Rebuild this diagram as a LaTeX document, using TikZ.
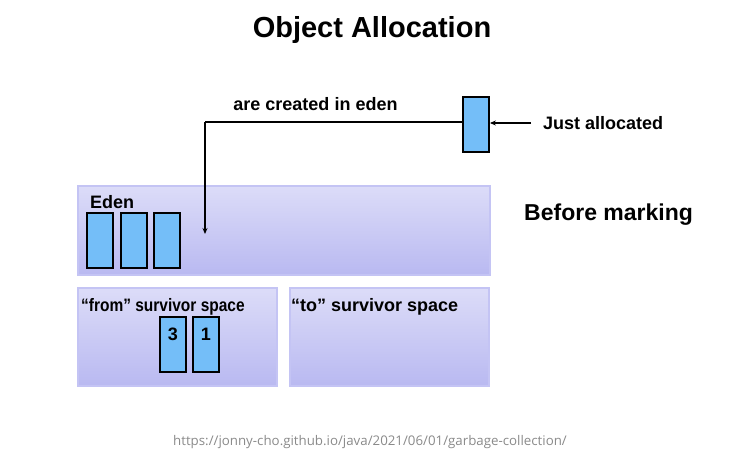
\documentclass[tikz,border=0pt]{standalone}
\usepackage{fontspec}
\usetikzlibrary{arrows.meta}
\setmainfont{Liberation Sans}
\newfontfamily\urlfont{Open Sans}
\definecolor{spaceTop}{HTML}{DCDCF8}
\definecolor{spaceBot}{HTML}{B9B9F1}
\definecolor{spaceEdge}{HTML}{C4C4F4}
\definecolor{objFill}{HTML}{74BEF8}
\definecolor{urlGray}{HTML}{8A8A8A}
\begin{document}
\begin{tikzpicture}[x=1pt,y=-1pt,
  space/.style={draw=spaceEdge,line width=1.5pt,top color=spaceTop,bottom color=spaceBot},
  obj/.style={draw=black,line width=1.8pt,fill=objFill},
  lbl/.style={font=\bfseries\fontsize{18}{20}\selectfont,inner sep=0pt},
  conn/.style={line width=1.6pt,-{Stealth[length=6pt,width=5pt]}}
]
\useasboundingbox (0,0) rectangle (739,466);
\node[font=\bfseries\fontsize{29}{32}\selectfont,anchor=base,inner sep=0pt] (title) at (372,37) {Object Allocation};

% spaces
\draw[space] (78,186) rectangle (490,275);
\draw[space] (78,288) rectangle (277,386);
\draw[space] (290,288) rectangle (489,386);

\node[lbl,anchor=base west] (edenlbl) at (90,208) {Eden};
\node[lbl,anchor=base west] (fromlbl) at (81,311) {\scalebox{0.86}[1]{“from” survivor space}};
\node[lbl,anchor=base west] (tolbl) at (291,311) {“to” survivor space};

% eden objects
\draw[obj] (87,213) rectangle (113,268);
\draw[obj] (121,213) rectangle (147,268);
\draw[obj] (154,213) rectangle (180,268);

% survivor objects
\draw[obj] (160,317) rectangle (186,372);
\draw[obj] (193,317) rectangle (219,372);
\node[lbl,anchor=base] (n3) at (173,340) {3};
\node[lbl,anchor=base] (n1) at (206,340) {1};

% new object
\node[obj,minimum width=26pt,minimum height=55pt,inner sep=0pt] (newobj) at (476,124.5) {};
\coordinate (corner) at (205,122);
\coordinate (drop) at (205,234);
\draw[line width=1.6pt] (corner -| newobj.west) -- (corner);
\draw[conn] (corner) -- (drop);
\node[lbl,anchor=base] (created) at (315.5,110) {are created in eden};

\coordinate (jaStart) at (531,123);
\draw[conn] (jaStart) -- (jaStart -| newobj.east);
\node[lbl,anchor=base west] (ja) at (543,129) {Just allocated};

\node[font=\bfseries\fontsize{23}{26}\selectfont,anchor=base west,inner sep=0pt] (before) at (524,220) {Before marking};

\node[font=\urlfont\fontsize{13.3}{15}\selectfont,text=urlGray,anchor=base,inner sep=0pt] (url) at (370,445) {https://jonny-cho.github.io/java/2021/06/01/garbage-collection/};
\end{tikzpicture}
\end{document}
